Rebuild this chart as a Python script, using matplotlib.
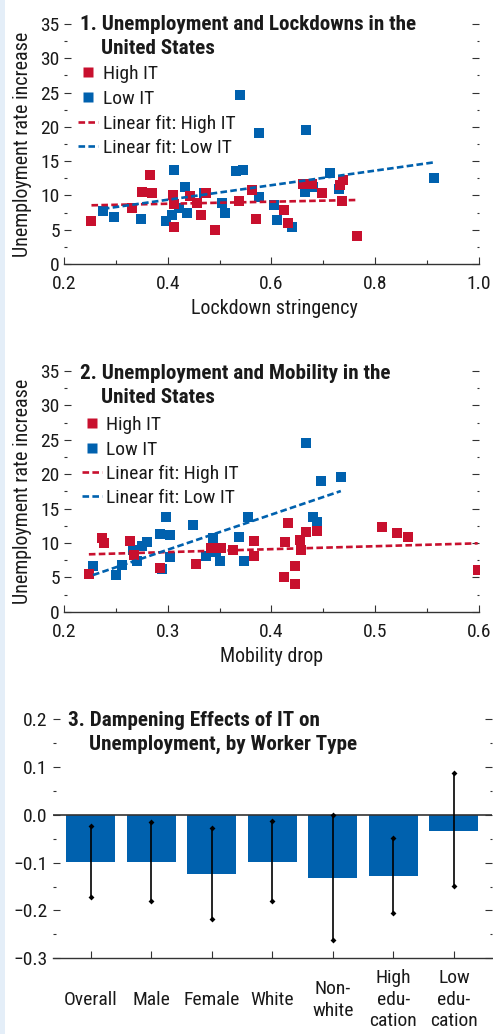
import numpy as np
import matplotlib
matplotlib.use("Agg")
import matplotlib.pyplot as plt
from matplotlib.lines import Line2D
from matplotlib.patches import Rectangle
from matplotlib.ticker import MultipleLocator, FuncFormatter

plt.rcParams["font.family"] = ["Roboto Condensed", "DejaVu Sans"]
plt.rcParams["axes.unicode_minus"] = True

RED = "#C8102E"
BLUE = "#0061AE"
INK = "#1A1A1A"
AXIS = "#333333"

# ---- Panel 1: unemployment vs lockdown stringency ----
lock_high_x = [0.253, 0.332, 0.351, 0.366, 0.369, 0.411, 0.413, 0.413, 0.444, 0.456,
               0.464, 0.473, 0.491, 0.537, 0.562, 0.570, 0.625, 0.632, 0.662, 0.679,
               0.697, 0.732, 0.739, 0.736, 0.765]
lock_high_y = [6.3, 8.1, 10.5, 13.0, 10.4, 10.1, 8.8, 5.4, 9.9, 8.9,
               7.1, 10.4, 5.0, 9.2, 10.8, 6.6, 7.9, 6.0, 11.6, 11.6,
               10.3, 11.5, 12.3, 9.2, 4.1]
lock_low_x = [0.275, 0.296, 0.348, 0.397, 0.408, 0.413, 0.421, 0.433, 0.437, 0.470,
              0.504, 0.511, 0.532, 0.546, 0.539, 0.577, 0.576, 0.605, 0.610, 0.639,
              0.665, 0.667, 0.681, 0.713, 0.731, 0.914]
lock_low_y = [7.8, 6.9, 6.6, 6.2, 7.2, 13.7, 8.1, 11.3, 7.4, 10.3,
              8.9, 7.5, 13.6, 13.7, 24.6, 19.1, 9.7, 8.6, 6.4, 5.4,
              10.5, 19.6, 11.3, 13.2, 11.0, 12.6]
lock_fit_high = (8.18, 1.51)    # intercept, slope
lock_fit_low = (5.12, 10.62)

# ---- Panel 2: unemployment vs mobility drop ----
mob_high_x = [0.224, 0.237, 0.239, 0.264, 0.268, 0.293, 0.327, 0.342, 0.351, 0.363,
              0.383, 0.383, 0.412, 0.413, 0.416, 0.423, 0.423, 0.428, 0.429, 0.433,
              0.444, 0.507, 0.521, 0.532, 0.599]
mob_high_y = [5.5, 10.7, 10.0, 10.3, 8.3, 6.3, 7.0, 9.3, 9.3, 8.9,
              10.3, 8.1, 5.1, 10.2, 12.9, 6.7, 4.1, 10.4, 8.9, 11.6,
              11.7, 12.3, 11.5, 10.8, 6.0]
mob_low_x = [0.228, 0.250, 0.256, 0.267, 0.270, 0.275, 0.280, 0.293, 0.295, 0.298,
             0.302, 0.302, 0.324, 0.337, 0.344, 0.347, 0.350, 0.369, 0.374, 0.377,
             0.433, 0.440, 0.444, 0.448, 0.467]
mob_low_y = [6.7, 5.4, 6.8, 9.0, 7.4, 9.6, 10.2, 11.3, 6.2, 13.8,
             11.2, 7.9, 12.6, 8.1, 10.7, 8.7, 7.3, 10.9, 7.4, 13.7,
             24.6, 13.7, 13.0, 19.0, 19.6]
mob_fit_high = (7.39, 4.26)
mob_fit_low = (-6.32, 51.1)

# ---- Panel 3: dampening effect of IT by worker type ----
worker_types = ["Overall", "Male", "Female", "White", "Non-\nwhite",
                "High\nedu-\ncation", "Low\nedu-\ncation"]
effects = [-0.098, -0.098, -0.123, -0.098, -0.133, -0.127, -0.033]
ci_low = [-0.171, -0.180, -0.218, -0.181, -0.262, -0.206, -0.149]
ci_high = [-0.024, -0.015, -0.027, -0.014, -0.001, -0.048, 0.087]

W, H = 493, 1034
FS = 14
FS_LABEL = 14.4
FS_TITLE = 15.2
fig = plt.figure(figsize=(W / 100, H / 100), dpi=100)
fig.patches.append(Rectangle((0, 0), 5 / W, 1, transform=fig.transFigure,
                             facecolor="#E4EEF8", edgecolor="none", zorder=0))


def fx(px):
    return px / W


def fy(py):
    return 1 - py / H


def axes_px(left, top, right, bottom):
    return fig.add_axes([fx(left), fy(bottom), (right - left) / W, (bottom - top) / H])


def style_axes(ax, ymajor, yminor, xmajor, xminor):
    for side in ("top", "left", "right"):
        ax.spines[side].set_visible(False)
    ax.spines["bottom"].set_color(AXIS)
    ax.spines["bottom"].set_linewidth(1.0)
    ax.yaxis.set_major_locator(MultipleLocator(ymajor))
    ax.yaxis.set_minor_locator(MultipleLocator(yminor))
    if xmajor is not None:
        ax.xaxis.set_major_locator(MultipleLocator(xmajor))
        ax.xaxis.set_minor_locator(MultipleLocator(xminor))
    ax.tick_params(axis="y", which="both", direction="in", left=True, right=True,
                   color=AXIS, width=0.8, labelsize=FS, labelcolor=INK, pad=3)
    ax.tick_params(axis="y", which="major", length=5)
    ax.tick_params(axis="y", which="minor", length=1.8)
    ax.tick_params(axis="x", which="both", direction="in", bottom=True, top=False,
                   color=AXIS, width=0.8, labelsize=FS, labelcolor=INK, pad=8)
    ax.tick_params(axis="x", which="major", length=5)
    ax.tick_params(axis="x", which="minor", length=3)
    ax.set_facecolor("none")


def manual_legend(marker_x, line_x0, line_x1, text_x, baselines):
    entries = [("High IT", RED, "marker"), ("Low IT", BLUE, "marker"),
               ("Linear fit: High IT", RED, "line"), ("Linear fit: Low IT", BLUE, "line")]
    for (label, col, kind), base in zip(entries, baselines):
        mid = base - 7
        if kind == "marker":
            fig.add_artist(Line2D([fx(marker_x)], [fy(mid)], marker="s", ms=7.2,
                                  ls="none", color=col, mec="none",
                                  transform=fig.transFigure))
        else:
            fig.add_artist(Line2D([fx(line_x0), fx(line_x1)], [fy(mid), fy(mid)],
                                  color=col, lw=1.9, ls=(0, (2.5, 1.25)),
                                  transform=fig.transFigure))
        fig.text(fx(text_x), fy(base), label, fontsize=FS, color=INK, va="baseline")


def scatter_panel(ax, hx, hy, lx, ly, fit_h, fit_l):
    ax.scatter(lx, ly, marker="s", s=52, color=BLUE, linewidths=0, zorder=3)
    ax.scatter(hx, hy, marker="s", s=52, color=RED, linewidths=0, zorder=4)
    for xs, (b0, b1), col in ((hx, fit_h, RED), (lx, fit_l, BLUE)):
        xr = np.array([min(xs), max(xs)])
        ax.plot(xr, b0 + b1 * xr, color=col, lw=1.9, ls=(0, (2.5, 1.25)), zorder=5)


# Panel 1
ax1 = axes_px(64, 24, 478.7, 264)
scatter_panel(ax1, lock_high_x, lock_high_y, lock_low_x, lock_low_y,
              lock_fit_high, lock_fit_low)
ax1.set_xlim(0.2, 1.0)
ax1.set_ylim(0, 35)
style_axes(ax1, 5, 2.5, 0.2, 0.1)
ax1.xaxis.set_major_formatter(FuncFormatter(lambda v, p: f"{v:.1f}"))
fig.text(fx(80), fy(30.5), "1. Unemployment and Lockdowns in the", fontsize=FS_TITLE,
         fontweight="bold", color=INK, va="baseline")
fig.text(fx(101), fy(54.5), "United States", fontsize=FS_TITLE, fontweight="bold",
         color=INK, va="baseline")
manual_legend(88, 78, 98, 103, [79, 104, 129, 153])
fig.text(fx(22.5), fy(144), "Unemployment rate increase", rotation=90,
         fontsize=FS_LABEL, color=INK, ha="center", va="center")
fig.text(fx(274), fy(308), "Lockdown stringency", fontsize=FS_LABEL, color=INK,
         ha="center", va="center")

# Panel 2
ax2 = axes_px(64, 371, 478.7, 611.7)
scatter_panel(ax2, mob_high_x, mob_high_y, mob_low_x, mob_low_y,
              mob_fit_high, mob_fit_low)
ax2.set_xlim(0.2, 0.6)
ax2.set_ylim(0, 35)
style_axes(ax2, 5, 2.5, 0.1, 0.05)
ax2.xaxis.set_major_formatter(FuncFormatter(lambda v, p: f"{v:.1f}"))
fig.text(fx(80), fy(379), "2. Unemployment and Mobility in the", fontsize=FS_TITLE,
         fontweight="bold", color=INK, va="baseline")
fig.text(fx(101), fy(403.3), "United States", fontsize=FS_TITLE, fontweight="bold",
         color=INK, va="baseline")
manual_legend(92, 82, 102, 106, [430, 455, 479.3, 503.3])
fig.text(fx(22.5), fy(491), "Unemployment rate increase", rotation=90,
         fontsize=FS_LABEL, color=INK, ha="center", va="center")
fig.text(fx(271), fy(657), "Mobility drop", fontsize=FS_LABEL, color=INK,
         ha="center", va="center")

# Panel 3
ax3 = axes_px(53.3, 719, 492, 958.3)
pos = np.arange(len(worker_types))
ax3.bar(pos, effects, width=0.81, color=BLUE, zorder=2)
ax3.vlines(pos, ci_low, ci_high, color="black", lw=1.2, zorder=4)
ax3.scatter(np.concatenate([pos, pos]), ci_low + ci_high, marker="D", s=9,
            color="black", linewidths=0, zorder=5)
ax3.axhline(0, color=AXIS, lw=1.2, zorder=3)
ax3.set_xlim(-0.62, 6.63)
ax3.set_ylim(-0.3, 0.2)
style_axes(ax3, 0.1, 0.05, None, None)
ax3.yaxis.set_major_formatter(FuncFormatter(lambda v, p: f"{v:.1f}".replace("-", "\u2212")))
ax3.set_xticks(pos)
ax3.set_xticklabels(worker_types, va="center", linespacing=1.25)
ax3.xaxis.set_minor_locator(plt.NullLocator())
ax3.tick_params(axis="x", which="major", length=5, pad=30)
ax3.tick_params(axis="y", pad=4)
fig.text(fx(68.3), fy(726), "3. Dampening Effects of IT on", fontsize=FS_TITLE,
         fontweight="bold", color=INK, va="baseline")
fig.text(fx(89.3), fy(750), "Unemployment, by Worker Type", fontsize=FS_TITLE,
         fontweight="bold", color=INK, va="baseline")

fig.savefig("out.png", dpi=100)
